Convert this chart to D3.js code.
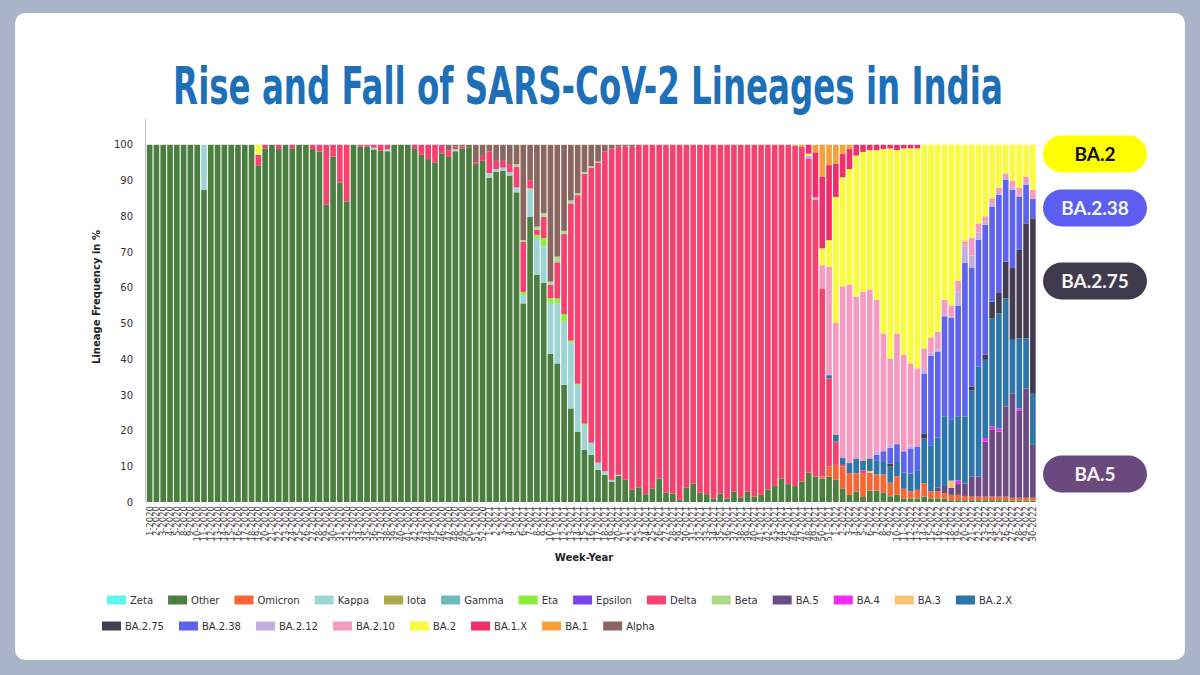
<!DOCTYPE html>
<html>
<head>
<meta charset="utf-8">
<script src="https://cdn.jsdelivr.net/npm/d3@7"></script>
<style>
  body { margin: 0; background: #aab4c8; }
  svg text { font-family: "DejaVu Sans", Verdana, sans-serif; }
</style>
</head>
<body>
<svg id="chart" width="1200" height="675"></svg>
<script>
// semanas com dados (algumas semanas de 2020 não aparecem no gráfico)
const weeks2020 = [1,2,3,4,5,8,9,10,11,12,13,14,15,16,17,18,19,20,21,22,23,24,25,26,27,28,29,30,31,32,33,34,35,36,37,38,39,40,41,42,43,44,45,46,47,48,49,50,51,52];
const weeks2021 = [1,2,3,4,5,6,7,8,9,10,11,12,13,14,15,16,17,18,19,20,21,22,23,24,25,26,27,28,29,30,31,32,33,34,35,36,37,38,39,40,41,42,43,44,45,46,47,48,49,50,51];
const weeks2022 = [1,2,3,4,5,6,7,8,9,10,11,12,13,14,15,16,17,18,19,20,21,22,23,24,25,26,27,28,29,30];

// Other e Delta: um valor por semana, na ordem acima
const other = [
  100,100,100,100,100,100,100,100,87.4,100,100,100,100,100,100,100,94.1,99,100,98.8,100,99,100,100,98.8,98.1,83.2,96.7,89.4,84.1,
  100,99.5,99.5,98.7,98.3,98.2,100,100,100,98.8,97.2,96,95.1,97.6,96.6,98.2,99,99.3,94.6,95.5,
  90.7,92.5,92.7,91.4,86.7,55.6,79.9,63.6,61.3,41.5,38.8,32.8,26.2,19.7,14.6,13.2,9.0,7.6,5.7,7.3,6.2,3.4,4.1,2.2,3.8,
  6.6,2.6,2.4,0.6,4.1,5.2,2.6,2.2,1.0,2.4,1.0,2.9,1.3,2.9,1.5,2.0,3.5,4.5,6.6,5.0,4.5,5.7,8.2,7.1,6.6,7.1,
  6.2,3.8,2.0,2.9,1.4,3.2,3.2,2.7,1.6,2.0,1.0,1.0,1.0,1.5,1.0,1.0,1.0,0.5,0.5,0.5,0.5,0.5,0.5,0.5,0.5,0.5,0.4,0.4,0.4,0.4
];
const delta = [
  0,0,0,0,0,0,0,0,0,0,0,0,0,0,0,0,3.1,1,0,1.2,0,1,0,0,1.2,1.9,16.8,3.3,10.6,15.9,
  0,0.5,0.5,0.8,1.7,1.2,0,0,0,1.2,2.8,4,4.9,2.4,1.9,0.7,0.5,0,0.5,1.4,
  6.0,2.3,1.9,2.3,5.8,14,2.3,1.4,5.9,3.7,10.1,22.4,38.4,52.8,70.0,77.0,84.0,89.5,92.8,91.9,93.3,96.1,95.9,97.8,96.2,
  93.4,97.4,97.6,99.4,95.9,94.8,97.4,97.8,99.0,97.6,99.0,97.1,98.7,97.1,98.5,98.0,96.5,95.5,93.4,95.0,95.2,93.8,88,77.5,52.7,24.7,
  6.5,0.5,0,0,0.9,0,0,0,0,0,0,0,0,0,0,0,0,0,0,0,0,0,0,0,0,0,0,0,0,0
];

// linhagens menores: só as semanas com valor
const zeta = {};
const iota = {};
const gamma = {};
const epsilon = {};
const omicron = {"50-2021":0.5,"51-2021":2.8,"1-2022":4.2,"2-2022":6.1,"3-2022":6.1,"4-2022":5.1,"5-2022":6.5,"6-2022":5,"7-2022":4.5,"8-2022":5,"9-2022":3.8,"10-2022":5.2,"11-2022":2.7,"12-2022":2,"13-2022":2.4,"14-2022":3.7,"15-2022":2,"16-2022":2,"17-2022":1.5,"18-2022":1.5,"19-2022":1.5,"20-2022":1.2,"21-2022":1,"22-2022":1,"23-2022":1,"24-2022":1,"25-2022":1,"26-2022":1,"27-2022":0.8,"28-2022":0.8,"29-2022":0.8,"30-2022":0.8};
const kappa = {"11-2020":12.6,"36-2020":0.5,"38-2020":0.6,"48-2020":0.6,"1-2021":1.4,"2-2021":0.7,"3-2021":0.9,"4-2021":0.9,"5-2021":1.4,"6-2021":2.3,"7-2021":7.9,"8-2021":10.3,"9-2021":10.3,"10-2021":14.2,"11-2021":16.8,"12-2021":17.7,"13-2021":18.5,"14-2021":13.1,"15-2021":7.0,"16-2021":3.4,"17-2021":2.0,"18-2021":1.0,"19-2021":0.5,"20-2021":0.3};
const eta = {"6-2021":0.9,"8-2021":0.9,"9-2021":2.3,"10-2021":1.4,"11-2021":1.4,"12-2021":2.1,"13-2021":0.5,"14-2021":0.3,"15-2021":0.3};
const beta = {"5-2021":0.7,"6-2021":0.5,"8-2021":0.9,"9-2021":1.1,"10-2021":0.9,"11-2021":1.6,"12-2021":0.9,"13-2021":0.8,"14-2021":0.5,"15-2021":0.5,"16-2021":0.4,"17-2021":0.3};
const ba5 = {"16-2022":1,"17-2022":2,"18-2022":2,"19-2022":3,"20-2022":3.5,"21-2022":5.6,"22-2022":5.6,"23-2022":15.4,"24-2022":18.7,"25-2022":18.2,"26-2022":25.2,"27-2022":29.2,"28-2022":24.3,"29-2022":30.6,"30-2022":14.8};
const ba4 = {"19-2022":1,"23-2022":1,"24-2022":0.9,"25-2022":0.9,"28-2022":0.7};
const ba3 = {"6-2022":0.5,"18-2022":2};
const ba2x = {"51-2021":0.9,"1-2022":1.9,"2-2022":1.9,"3-2022":2.8,"4-2022":4.2,"5-2022":2.8,"6-2022":3.5,"7-2022":4,"8-2022":3.5,"9-2022":4.5,"10-2022":4,"11-2022":4.5,"12-2022":5,"13-2022":5.5,"14-2022":12.6,"15-2022":12.9,"16-2022":14,"17-2022":19.5,"18-2022":17,"19-2022":18,"20-2022":18.7,"21-2022":24.2,"22-2022":30.9,"23-2022":21.9,"24-2022":30.3,"25-2022":32.2,"26-2022":30.3,"27-2022":15,"28-2022":19.6,"29-2022":14,"30-2022":14.3};
const ba275 = {"9-2022":0.8,"14-2022":1.4,"21-2022":1,"23-2022":1.4,"24-2022":4.7,"25-2022":5.7,"26-2022":10.3,"27-2022":20.1,"28-2022":24.8,"29-2022":32.2,"30-2022":49.1};
const ba238 = {"7-2022":1.5,"8-2022":3,"9-2022":4.5,"10-2022":5,"11-2022":6,"12-2022":7,"13-2022":6.5,"14-2022":16.8,"15-2022":25,"16-2022":24,"17-2022":28,"18-2022":28.5,"19-2022":31,"20-2022":43,"21-2022":33.2,"22-2022":35.4,"23-2022":36.4,"24-2022":26.6,"25-2022":27.5,"26-2022":22.9,"27-2022":21.9,"28-2022":14.9,"29-2022":10.8,"30-2022":5.5};
const ba212 = {"48-2021":0.8,"49-2021":0.7,"7-2022":1,"9-2022":1,"12-2022":0.8,"14-2022":0.9,"15-2022":0.9,"16-2022":0.7,"17-2022":0.4,"18-2022":0.5,"19-2022":4,"20-2022":4.6,"21-2022":3.5,"22-2022":2.1,"23-2022":0.9,"24-2022":0.8,"25-2022":0.5,"26-2022":0.5,"27-2022":0.6,"28-2022":0.5,"29-2022":0.5};
const ba210 = {"50-2021":6.5,"51-2021":30.3,"1-2022":31.3,"2-2022":48.1,"3-2022":50,"4-2022":45.3,"5-2022":47.3,"6-2022":47.2,"7-2022":42.4,"8-2022":33,"9-2022":24,"10-2022":31,"11-2022":27,"12-2022":23,"13-2022":22,"14-2022":6.1,"15-2022":4.2,"16-2022":5,"17-2022":4.2,"18-2022":3,"19-2022":3,"20-2022":1.5,"21-2022":5,"22-2022":2.5,"23-2022":1.5,"24-2022":1.5,"25-2022":1.5,"26-2022":1.3,"27-2022":2,"28-2022":2,"29-2022":1.7,"30-2022":2.5};
const ba2 = {"19-2020":2.8,"48-2021":0.5,"50-2021":4.7,"51-2021":7.5,"1-2022":35.3,"2-2022":30.5,"3-2022":32.3,"4-2022":39.5,"5-2022":39.1,"6-2022":39.1,"7-2022":41.9,"8-2022":51.6,"9-2022":58.8,"10-2022":51.3,"11-2022":57.8,"12-2022":60.2,"13-2022":61.6,"14-2022":57,"15-2022":54,"16-2022":52.3,"17-2022":43.4,"18-2022":45,"19-2022":38,"20-2022":27,"21-2022":26,"22-2022":22,"23-2022":20,"24-2022":15,"25-2022":12,"26-2022":8,"27-2022":10,"28-2022":12,"29-2022":9,"30-2022":12.6};
const ba1x = {"48-2021":2.5,"49-2021":12.6,"50-2021":20,"51-2021":21,"1-2022":9.3,"2-2022":6.5,"3-2022":5.6,"4-2022":3,"5-2022":2,"6-2022":1.5,"7-2022":1.5,"8-2022":1.2,"9-2022":1,"10-2022":1.5,"11-2022":1,"12-2022":1,"13-2022":1};
const ba1 = {"46-2021":0.3,"47-2021":0.5,"49-2021":2.1,"50-2021":9.0,"51-2021":5.7,"1-2022":5.3,"2-2022":2.6,"3-2022":1.2};
const alpha = {"47-2020":1.5,"48-2020":0.5,"49-2020":0.5,"50-2020":0.7,"51-2020":4.9,"52-2020":3.1,"1-2021":1.9,"2-2021":4.5,"3-2021":4.5,"4-2021":5.4,"5-2021":5.4,"6-2021":26.7,"7-2021":9.9,"8-2021":22.9,"9-2021":19.1,"10-2021":38.3,"11-2021":31.3,"12-2021":24.1,"13-2021":15.6,"14-2021":13.6,"15-2021":7.6,"16-2021":6.0,"17-2021":4.7,"18-2021":1.9,"19-2021":1.0,"20-2021":0.5,"21-2021":0.5,"22-2021":0.5};

// ordem do empilhamento (de baixo para cima) = ordem da legenda
const lineages = ["Zeta","Other","Omicron","Kappa","Iota","Gamma","Eta","Epsilon","Delta","Beta","BA.5","BA.4","BA.3","BA.2.X","BA.2.75","BA.2.38","BA.2.12","BA.2.10","BA.2","BA.1.X","BA.1","Alpha"];
const lineageColors = ["#5ef4f0","#4a7f40","#fb6433","#9dd5d5","#aca84c","#6cbcbb","#8bef3b","#7844f0","#f7426f","#acd98a","#6c4b84","#f52cf2","#fdc074","#2e76aa","#443d52","#5e63ef","#c1ade0","#f59bc2","#fafa3e","#ef2f6b","#f7a03c","#8a665e"];
const sparse = {"Zeta":zeta,"Omicron":omicron,"Kappa":kappa,"Iota":iota,"Gamma":gamma,"Eta":eta,"Epsilon":epsilon,"Beta":beta,"BA.5":ba5,"BA.4":ba4,"BA.3":ba3,"BA.2.X":ba2x,"BA.2.75":ba275,"BA.2.38":ba238,"BA.2.12":ba212,"BA.2.10":ba210,"BA.2":ba2,"BA.1.X":ba1x,"BA.1":ba1,"Alpha":alpha};

// etiquetas à direita
const calloutNames = ["BA.2","BA.2.38","BA.2.75","BA.5"];
const calloutFill = ["#ffff00","#5b5ef0","#3f3b4c","#6a4a7e"];
const calloutText = ["#111111","#f4f4f4","#f4f4f4","#f4f4f4"];
const calloutY = [154, 208, 281, 474];

const weekLabels = [
  ...weeks2020.map(w => `${w}-2020`),
  ...weeks2021.map(w => `${w}-2021`),
  ...weeks2022.map(w => `${w}-2022`)
];

const linhas = weekLabels.map((wk, i) => {
  const row = { week: wk };
  lineages.forEach(k => {
    if (k === "Other") row[k] = other[i];
    else if (k === "Delta") row[k] = delta[i];
    else row[k] = sparse[k][wk] || 0;
  });
  return row;
});

const svg = d3.select("#chart");
const cor = d3.scaleOrdinal().domain(lineages).range(lineageColors);

// cartão branco
svg.append("rect").attr("x", 15).attr("y", 13).attr("width", 1170).attr("height", 647)
  .attr("rx", 10).attr("fill", "#ffffff");

// título: fonte estreita, escalada na horizontal para ocupar a largura do original
const titulo = svg.append("text")
  .attr("text-anchor", "middle")
  .style("font-family", "'Liberation Sans Narrow','DejaVu Sans Condensed','Roboto','Open Sans',sans-serif")
  .style("font-weight", "bold")
  .style("font-size", "52px")
  .attr("fill", "#1d6fb8")
  .text("Rise and Fall of SARS-CoV-2 Lineages in India");
const larguraTitulo = titulo.node().getComputedTextLength();
titulo.attr("transform", `translate(588,104) scale(${830 / larguraTitulo},1)`);

const x = d3.scaleBand().domain(weekLabels).range([146, 1036.5]).paddingInner(0.17).paddingOuter(0.12);
const y = d3.scaleLinear().domain([0, 107.5]).range([502, 118]);

const stacked = d3.stack().keys(lineages)(linhas);

const g = svg.append("g");
g.selectAll(".camada").data(stacked).enter().append("g")
  .attr("class", "camada")
  .attr("fill", d => cor(d.key))
  .selectAll("rect")
  .data(d => d.filter(s => s[1] - s[0] > 0))
  .enter().append("rect")
  .attr("x", d => x(d.data.week))
  .attr("y", d => y(d[1]))
  .attr("width", x.bandwidth())
  .attr("height", d => y(d[0]) - y(d[1]));

// eixo Y
const eixoY = svg.append("g").attr("transform", "translate(145,0)")
  .call(d3.axisLeft(y).tickValues(d3.range(0, 101, 10)).tickSize(0).tickPadding(12).tickSizeOuter(0));
eixoY.select(".domain").attr("stroke", "#c8c8c8");
eixoY.selectAll("text").style("font-size", "10px").attr("fill", "#333");

// eixo X: rótulos girados
svg.append("g").selectAll("text").data(weekLabels).enter().append("text")
  .attr("transform", d => `translate(${x(d) + x.bandwidth() / 2 + 3},506) rotate(-90)`)
  .attr("text-anchor", "end")
  .style("font-size", "8.5px")
  .attr("fill", "#444")
  .text(d => d);

svg.append("text").attr("x", 100).attr("y", 297)
  .attr("transform", "rotate(-90,100,297)")
  .attr("text-anchor", "middle")
  .style("font-size", "10px").style("font-weight", "bold").attr("fill", "#222")
  .text("Lineage Frequency in %");

svg.append("text").attr("x", 584).attr("y", 561)
  .attr("text-anchor", "middle")
  .style("font-size", "10px").style("font-weight", "bold").attr("fill", "#222")
  .text("Week-Year");

// legenda em duas linhas
const linhasLegenda = [lineages.slice(0, 14), lineages.slice(14)];
const legendStart = [107, 102];
const legendY = [600, 626];
linhasLegenda.forEach((itens, r) => {
  let posX = legendStart[r];
  itens.forEach(nome => {
    const item = svg.append("g").attr("transform", `translate(${posX},${legendY[r]})`);
    item.append("rect").attr("x", 0).attr("y", -4.5).attr("width", 19).attr("height", 9).attr("fill", cor(nome));
    const t = item.append("text").attr("x", 23).attr("y", 4)
      .style("font-size", "10px").attr("fill", "#333").text(nome);
    posX += 23 + t.node().getComputedTextLength() + 15;
  });
});

// etiquetas coloridas à direita
calloutNames.forEach((nome, i) => {
  svg.append("rect").attr("x", 1043).attr("y", calloutY[i] - 18.5)
    .attr("width", 104).attr("height", 37).attr("rx", 18.5)
    .attr("fill", calloutFill[i]);
  svg.append("text").attr("x", 1095).attr("y", calloutY[i] + 7)
    .attr("text-anchor", "middle")
    .style("font-family", "Lato, 'Open Sans', sans-serif")
    .style("font-weight", "bold").style("font-size", "19px")
    .attr("fill", calloutText[i]).text(nome);
});
</script>
</body>
</html>
